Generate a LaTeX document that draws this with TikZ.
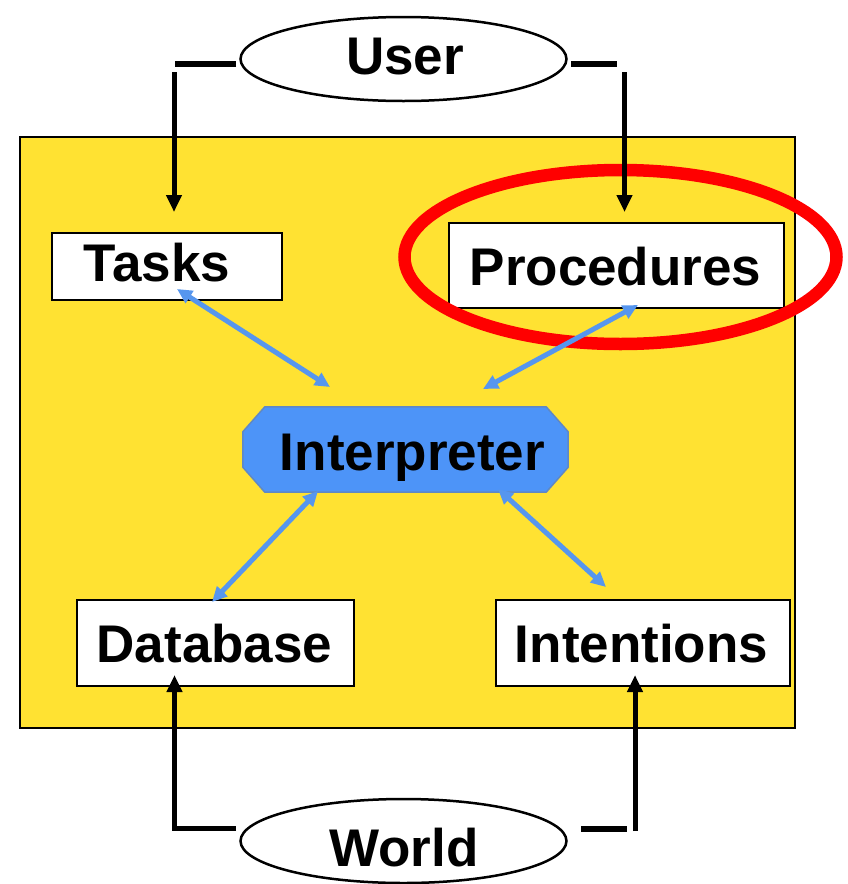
\documentclass[tikz,border=0pt]{standalone}
\usepackage{fontspec}
\setmainfont{Liberation Sans}
\usetikzlibrary{arrows.meta,shapes.geometric}
\definecolor{panel}{RGB}{255,226,50}
\definecolor{linkblue}{RGB}{86,150,238}
\definecolor{interpfill}{RGB}{77,148,248}
\definecolor{interpedge}{RGB}{96,136,196}
\definecolor{ringred}{RGB}{255,0,0}

\begin{document}
\begin{tikzpicture}[x=1pt,y=-1pt,
  lbl/.style={font=\fontsize{53}{60}\selectfont\bfseries, anchor=base, inner sep=0pt},
  box/.style={draw=black, line width=2.5pt, fill=white, inner sep=0pt},
  agent/.style={ellipse, draw=black, line width=2.5pt, fill=white, inner sep=0pt,
                minimum width=326pt, minimum height=84pt},
  bar/.style={line width=6pt},
  feed/.style={line width=5pt, -{Triangle[length=17pt,width=15pt]}},
  link/.style={draw=linkblue, line width=5pt,
               {Triangle[length=15pt,width=14pt]}-{Triangle[length=15pt,width=14pt]}}]

\useasboundingbox (0,0) rectangle (848,884);

% system panel
\node[draw=black, line width=2.5pt, fill=panel, inner sep=0pt,
      minimum width=775pt, minimum height=591pt] (panel) at (407.5,432.5) {};

% components
\node[box, minimum width=230pt, minimum height=67pt] (tasks) at (167,266.5) {};
\node[box, minimum width=335pt, minimum height=85pt] (procs) at (616.5,265.5) {};
\node[box, minimum width=277pt, minimum height=86pt] (db) at (215.5,643) {};
\node[box, minimum width=294pt, minimum height=86pt] (intents) at (643,643) {};

% interpreter (chamfered box)
\node[inner sep=0pt, minimum width=325pt, minimum height=85pt] (interp) at (405.5,449.5) {};
\draw[fill=interpfill, draw=interpedge, line width=1.5pt]
  ([xshift=22pt]interp.north west) -- ([xshift=-22pt]interp.north east)
  -- ([yshift=-25pt]interp.north east) -- ([yshift=25pt]interp.south east)
  -- ([xshift=-22pt]interp.south east) -- ([xshift=22pt]interp.south west)
  -- ([yshift=25pt]interp.south west) -- ([yshift=-25pt]interp.north west) -- cycle;

% external agents
\node[agent] (user) at (403.5,59) {};
\node[agent] (world) at (403.5,841) {};

% highlight ring
\node[ellipse, draw=ringred, line width=12.5pt, inner sep=0pt,
      minimum width=432pt, minimum height=174pt] (ring) at (620.5,257) {};

% labels
\node[lbl] (userT) at (405,74) {User};
\node[lbl] (worldT) at (404,866) {World};
\node[lbl] (tasksT) at (157,281) {Tasks};
\node[lbl] (procsT) at (615.5,285) {Procedures};
\node[lbl] (interpT) at (412.5,470) {Interpreter};
\node[lbl] (dbT) at (214.5,662) {Database};
\node[lbl] (intentsT) at (641.5,662) {Intentions};

% end points of the feed lines
\coordinate (uLa) at (236,63.5);  \coordinate (uLb) at (175,63.5);
\coordinate (uLc) at (174,72);    \coordinate (uLd) at (174,212);
\coordinate (uRa) at (571,64);    \coordinate (uRb) at (617,64);
\coordinate (uRc) at (624.5,72);  \coordinate (uRd) at (624.5,212);
\coordinate (wLa) at (236,828.5); \coordinate (wLb) at (174.5,828.5);
\coordinate (wLc) at (174.5,675);
\coordinate (wRa) at (581,829);   \coordinate (wRb) at (627,829);
\coordinate (wRc) at (635,831);   \coordinate (wRd) at (635,675);

% user -> tasks / procedures
\draw[bar] (uLa) -- (uLb);
\draw[feed] (uLc) -- (uLd);
\draw[bar] (uRa) -- (uRb);
\draw[feed] (uRc) -- (uRd);

% world -> database / intentions
\draw[feed] (wLa) -- (wLb) -- (wLc);
\draw[bar] (wRa) -- (wRb);
\draw[feed] (wRc) -- (wRd);

% interpreter links
\coordinate (tA) at (177,289);  \coordinate (tB) at (330,387);
\coordinate (pA) at (638,305);  \coordinate (pB) at (483,389);
\coordinate (dA) at (318,491);  \coordinate (dB) at (212,602);
\coordinate (iA) at (498,489);  \coordinate (iB) at (606,587);
\draw[link] (tA) -- (tB);
\draw[link] (pA) -- (pB);
\draw[link] (dA) -- (dB);
\draw[link] (iA) -- (iB);

\end{tikzpicture}
\end{document}
